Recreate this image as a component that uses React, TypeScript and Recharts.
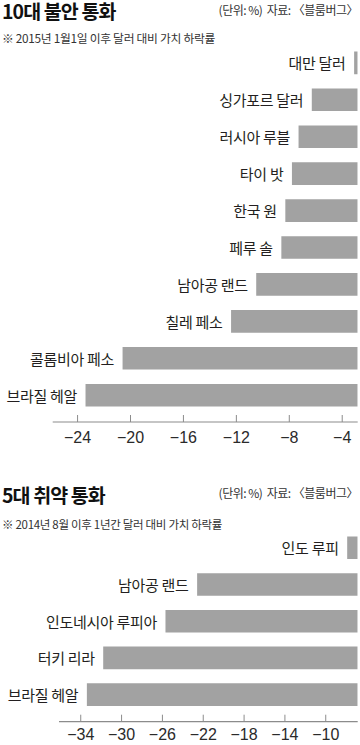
import React from 'react';
import { BarChart, Bar, XAxis, YAxis, LabelList } from 'recharts';

// ---- Chart 1: 10대 불안 통화 ----
const unstableNames = ['대만 달러', '싱가포르 달러', '러시아 루블', '타이 밧', '한국 원', '페루 솔', '남아공 랜드', '칠레 페소', '콜롬비아 페소', '브라질 헤알'];
const unstableValues = [-3.1, -6.3, -7.3, -7.8, -8.3, -8.6, -10.5, -12.4, -20.6, -23.4];
const unstableTicks = [-24, -20, -16, -12, -8, -4];
const unstableDomain = [-25.88, -2.83];

// ---- Chart 2: 5대 취약 통화 ----
const weakNames = ['인도 루피', '남아공 랜드', '인도네시아 루피아', '터키 리라', '브라질 헤알'];
const weakValues = [-7.9, -22.6, -25.7, -31.8, -33.4];
const weakTicks = [-34, -30, -26, -22, -18, -14, -10];
const weakDomain = [-36.13, -6.87];

const unstableData = unstableNames.map((name, i) => ({ name, value: unstableValues[i] }));
const weakData = weakNames.map((name, i) => ({ name, value: weakValues[i] }));

const KR = '"Noto Sans CJK KR", "Noto Sans", sans-serif';
const BAR = '#a2a2a2';
const AXIS = '#8c8c8c';
const TEXT = '#231f20';

const fmt = (v: number) => String(v).replace('-', '\u2212');

const BarNameLabel = (props: any) => {
  const vb = props.viewBox ?? {};
  const x = Number(vb.x ?? props.x);
  const w = Number(vb.width ?? props.width);
  const y = Number(vb.y ?? props.y);
  const h = Number(vb.height ?? props.height);
  const left = Math.min(x, x + w);
  return (
    <text x={left - 8.5} y={y + h / 2} textAnchor="end" dominantBaseline="central" fontSize={15} letterSpacing={-0.3} fontFamily={KR} fill={TEXT}>
      {props.value}
    </text>
  );
};

const makeTick = (dy: number) => (props: any) => {
  const { x, y, payload } = props;
  return (
    <g>
      <line x1={x} x2={x} y1={y - 7} y2={y} stroke={AXIS} strokeWidth={1} />
      <text x={x} y={y + dy} textAnchor="middle" dominantBaseline="central" fontSize={16} fontFamily='"Liberation Sans", Arial, sans-serif' fill="#2a2a2a">
        {fmt(payload.value)}
      </text>
    </g>
  );
};

const Tick1 = makeTick(15.3);
const Tick2 = makeTick(13);

export default function App() {
  return (
    <div style={{ position: 'absolute', left: 0, top: 0, width: 360, height: 745, background: '#fff', overflow: 'hidden' }}>
      <div style={{ position: 'absolute', left: 0, top: 0 }}>
        <BarChart width={360} height={460} layout="vertical" data={unstableData} margin={{ top: 44.6, right: 2.3, bottom: 8, left: 52.7 }}>
          <XAxis type="number" domain={unstableDomain} allowDataOverflow ticks={unstableTicks} interval={0} height={30} tickSize={0} tickMargin={0} tickLine={false} axisLine={{ stroke: AXIS, strokeWidth: 1.2 }} tick={Tick1} />
          <YAxis type="category" dataKey="name" orientation="right" width={0} tick={false} tickLine={false} axisLine={{ stroke: AXIS, strokeWidth: 1.5 }} padding={{ top: 0, bottom: 8.2 }} />
          <Bar dataKey="value" fill={BAR} barSize={22.6} isAnimationActive={false}>
            <LabelList dataKey="name" content={BarNameLabel} />
          </Bar>
        </BarChart>
      </div>
      <div style={{ position: 'absolute', left: 0, top: 460 }}>
        <BarChart width={360} height={285} layout="vertical" data={weakData} margin={{ top: 69.5, right: 2.3, bottom: 3.3, left: 59 }}>
          <XAxis type="number" domain={weakDomain} allowDataOverflow ticks={weakTicks} interval={0} height={20} tickSize={0} tickMargin={0} tickLine={false} axisLine={{ stroke: AXIS, strokeWidth: 1.2 }} tick={Tick2} />
          <YAxis type="category" dataKey="name" orientation="right" width={0} tick={false} tickLine={false} axisLine={{ stroke: AXIS, strokeWidth: 1.5 }} padding={{ top: 0, bottom: 8.7 }} />
          <Bar dataKey="value" fill={BAR} barSize={22.6} isAnimationActive={false}>
            <LabelList dataKey="name" content={BarNameLabel} />
          </Bar>
        </BarChart>
      </div>
      <svg width={360} height={745} style={{ position: 'absolute', left: 0, top: 0, pointerEvents: 'none' }}>
        <g fontFamily={KR}>
          <text x={2} y={18.6} fontSize={19.5} fontWeight={700} letterSpacing={-0.9} fill="#111">10대 불안 통화</text>
          <text x={358} y={14.5} fontSize={12} letterSpacing={-0.5} textAnchor="end" fill="#333" style={{ whiteSpace: 'pre' }}>{'(단위: %)  자료: 〈블룸버그〉'}</text>
          <text x={2} y={43} fontSize={11.8} letterSpacing={-0.3} fill="#333">※ 2015년 1월1일 이후 달러 대비 가치 하락률</text>
          <text x={2} y={503.3} fontSize={19.5} fontWeight={700} letterSpacing={-0.9} fill="#111">5대 취약 통화</text>
          <text x={358} y={497.5} fontSize={12} letterSpacing={-0.5} textAnchor="end" fill="#333" style={{ whiteSpace: 'pre' }}>{'(단위: %)  자료: 〈블룸버그〉'}</text>
          <text x={2} y={528.5} fontSize={11.5} letterSpacing={-0.3} fill="#333">※ 2014년 8월 이후 1년간 달러 대비 가치 하락률</text>
        </g>
      </svg>
    </div>
  );
}
